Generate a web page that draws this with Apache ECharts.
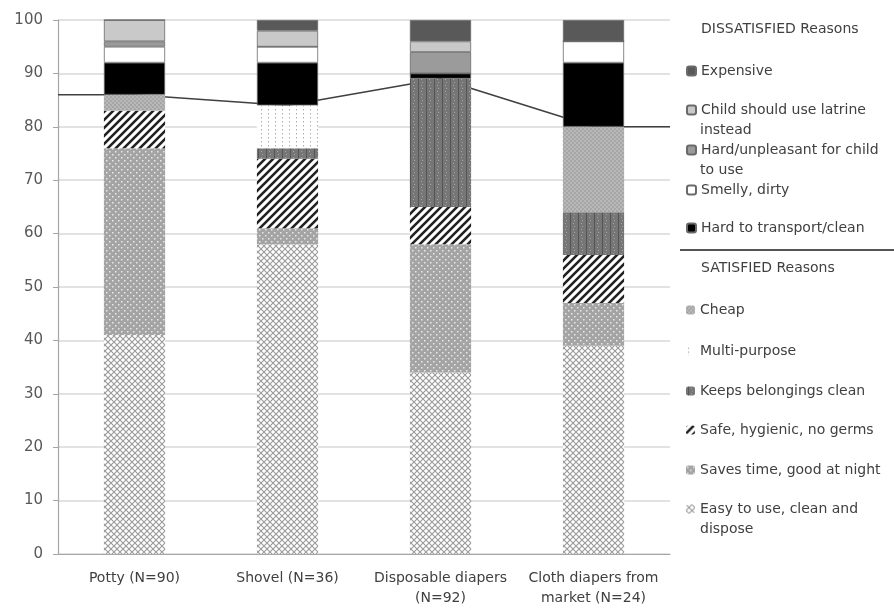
<!DOCTYPE html>
<html>
<head>
<meta charset="utf-8">
<script src="https://cdn.jsdelivr.net/npm/echarts@6/dist/echarts.min.js"></script>
<style>
  html, body { margin: 0; padding: 0; background: #fff; }
  #chart { width: 894px; height: 610px; }
</style>
</head>
<body>
<div id="chart"></div>
<script>
// categories (x axis)
const categories = ['Potty (N=90)', 'Shovel (N=36)', 'Disposable diapers\n(N=92)', 'Cloth diapers from\nmarket (N=24)'];
const yTicks = [0, 10, 20, 30, 40, 50, 60, 70, 80, 90, 100];

// satisfied reasons, bottom of stack first (%)
const easyToUse     = [41, 58, 34, 39];
const savesTime     = [35, 3, 24, 8];
const safeHygienic  = [7, 13, 7, 9];
const keepsClean    = [0, 2, 24, 8];
const multiPurpose  = [0, 8, 0, 0];
const cheap         = [3, 0, 0, 16];

// dissatisfied reasons, stacked above (%)
const hardTransport = [6, 8, 1, 12];
const smelly        = [3, 3, 0, 4];
const hardForChild  = [1, 0, 4, 0];
const childLatrine  = [4, 3, 2, 0];
const expensive     = [0, 2, 4, 4];

// little canvas tiles used as fill patterns
function tile(w, h, bg, draw) {
  const c = document.createElement('canvas');
  c.width = w; c.height = h;
  const ctx = c.getContext('2d');
  ctx.fillStyle = bg;
  ctx.fillRect(0, 0, w, h);
  if (draw) draw(ctx);
  return { image: c, repeat: 'repeat' };
}

const pEasy = tile(6, 6, '#ffffff', ctx => {
  ctx.strokeStyle = '#9a9a9a'; ctx.lineWidth = 1.1;
  ctx.beginPath();
  ctx.moveTo(0, 0); ctx.lineTo(6, 6);
  ctx.moveTo(0, 6); ctx.lineTo(6, 0);
  ctx.stroke();
});
const pSaves = tile(6, 6, '#a4a4a4', ctx => {
  ctx.fillStyle = 'rgba(255,255,255,0.75)';
  ctx.fillRect(1, 1, 1.5, 1.5);
  ctx.fillRect(4, 4, 1.5, 1.5);
});
const pSafe = tile(8, 8, '#ffffff', ctx => {
  ctx.strokeStyle = '#222'; ctx.lineWidth = 2.6;
  ctx.beginPath();
  ctx.moveTo(-1, 9); ctx.lineTo(9, -1);
  ctx.moveTo(-1, 1); ctx.lineTo(1, -1);
  ctx.moveTo(7, 9); ctx.lineTo(9, 7);
  ctx.stroke();
});
const pKeeps = tile(8, 6, '#767676', ctx => {
  ctx.fillStyle = '#555';
  ctx.fillRect(2, 0, 1, 6);
  ctx.fillStyle = 'rgba(255,255,255,0.35)';
  ctx.fillRect(5, 1, 1, 1);
  ctx.fillRect(6, 4, 1, 1);
});
const pMulti = tile(7, 4, '#ffffff', ctx => {
  ctx.fillStyle = '#a8a8a8';
  ctx.fillRect(2, 1, 1, 1.4);
});
const pCheap = tile(4, 4, '#a6a6a6', ctx => {
  ctx.fillStyle = '#b8b8b8';
  ctx.fillRect(0, 0, 2, 2);
  ctx.fillRect(2, 2, 2, 2);
});

const satisfied = [
  { name: 'Easy to use, clean and dispose', data: easyToUse, color: pEasy },
  { name: 'Saves time, good at night', data: savesTime, color: pSaves },
  { name: 'Safe, hygienic, no germs', data: safeHygienic, color: pSafe },
  { name: 'Keeps belongings clean', data: keepsClean, color: pKeeps },
  { name: 'Multi-purpose', data: multiPurpose, color: pMulti },
  { name: 'Cheap', data: cheap, color: pCheap }
];
const dissatisfied = [
  { name: 'Hard to transport/clean', data: hardTransport, color: '#000000' },
  { name: 'Smelly, dirty', data: smelly, color: '#ffffff' },
  { name: 'Hard/unpleasant for child to use', data: hardForChild, color: '#9b9b9b' },
  { name: 'Child should use latrine instead', data: childLatrine, color: '#c9c9c9' },
  { name: 'Expensive', data: expensive, color: '#595959' }
];

// legend text split over two lines where the original wraps
const wraps = {
  'Child should use latrine instead': ['Child should use latrine', 'instead'],
  'Hard/unpleasant for child to use': ['Hard/unpleasant for child', 'to use'],
  'Easy to use, clean and dispose': ['Easy to use, clean and', 'dispose']
};

// satisfied total per category -> the connecting line
const satTotal = categories.map((c, i) => satisfied.reduce((s, r) => s + r.data[i], 0));
const lineData = [satTotal[0]];
satTotal.forEach((t, i) => { if (i > 0) lineData.push(null); lineData.push(t); });
lineData.push(satTotal[satTotal.length - 1]);

const font = 'DejaVu Sans';
const fs = 14;
const textColor = '#404040';

const series = [];
satisfied.forEach(s => series.push({
  name: s.name, type: 'bar', stack: 'all', barWidth: '40%', z: 3,
  itemStyle: { color: s.color },
  data: s.data
}));
dissatisfied.forEach(s => series.push({
  name: s.name, type: 'bar', stack: 'all', barWidth: '40%', z: 3,
  itemStyle: { color: s.color, borderColor: '#6a6a6a', borderWidth: 0.8 },
  data: s.data
}));
series.push({
  name: 'satisfied total', type: 'line', xAxisIndex: 1, z: 1,
  symbol: 'none', connectNulls: true, silent: true,
  lineStyle: { color: '#404040', width: 1.6 },
  data: lineData
});

// legend: one component per entry so the spacing can follow the original
const legendRows = [
  ['Expensive', 71], ['Child should use latrine instead', 110],
  ['Hard/unpleasant for child to use', 150], ['Smelly, dirty', 190],
  ['Hard to transport/clean', 228],
  ['Cheap', 310], ['Multi-purpose', 351], ['Keeps belongings clean', 391],
  ['Safe, hygienic, no germs', 430], ['Saves time, good at night', 470],
  ['Easy to use, clean and dispose', 509]
];
const legends = legendRows.map(([name, cy]) => ({
  data: [name], left: 686, top: cy - 9, orient: 'vertical', padding: 0,
  itemWidth: 9, itemHeight: 9, selectedMode: false,
  textStyle: { fontFamily: font, fontSize: fs, color: textColor, lineHeight: 18 },
  formatter: n => wraps[n] ? wraps[n][0] : n
}));

const graphics = [
  { type: 'text', left: 701, top: 22, style: { text: 'DISSATISFIED Reasons', font: fs + 'px ' + font, fill: textColor } },
  { type: 'text', left: 701, top: 261, style: { text: 'SATISFIED Reasons', font: fs + 'px ' + font, fill: textColor } },
  { type: 'line', shape: { x1: 680, y1: 250, x2: 894, y2: 250 }, style: { stroke: '#555', lineWidth: 2 } }
];
legendRows.forEach(([name, cy]) => {
  if (wraps[name]) graphics.push({
    type: 'text', left: 700, top: cy + 21 - 8,
    style: { text: wraps[name][1], font: fs + 'px ' + font, fill: textColor }
  });
});

const chart = echarts.init(document.getElementById('chart'), null, { renderer: 'canvas' });
chart.setOption({
  animation: false,
  backgroundColor: '#ffffff',
  grid: { left: 58, right: 224, top: 20, bottom: 56 },
  legend: legends,
  graphic: graphics,
  xAxis: [
    {
      type: 'category', data: categories,
      axisLine: { lineStyle: { color: '#a6a6a6', width: 1.2 } },
      axisTick: { length: 5, lineStyle: { color: '#a6a6a6' } },
      axisLabel: { interval: 0, fontFamily: font, fontSize: fs, color: textColor, margin: 14, lineHeight: 20 }
    },
    {
      type: 'category', data: lineData.map((v, i) => String(i)),
      boundaryGap: false, show: false
    }
  ],
  yAxis: {
    type: 'value', min: 0, max: 100, interval: 10,
    axisLine: { show: true, lineStyle: { color: '#a6a6a6', width: 1.2 } },
    axisTick: { show: true, length: 5, lineStyle: { color: '#a6a6a6' } },
    axisLabel: {
      fontFamily: font, fontSize: 15, color: '#595959', margin: 15,
      formatter: v => yTicks.includes(v) ? String(v) : ''
    },
    splitLine: { lineStyle: { color: '#d9d9d9', width: 1.5 } }
  },
  series: series
});
</script>
</body>
</html>
